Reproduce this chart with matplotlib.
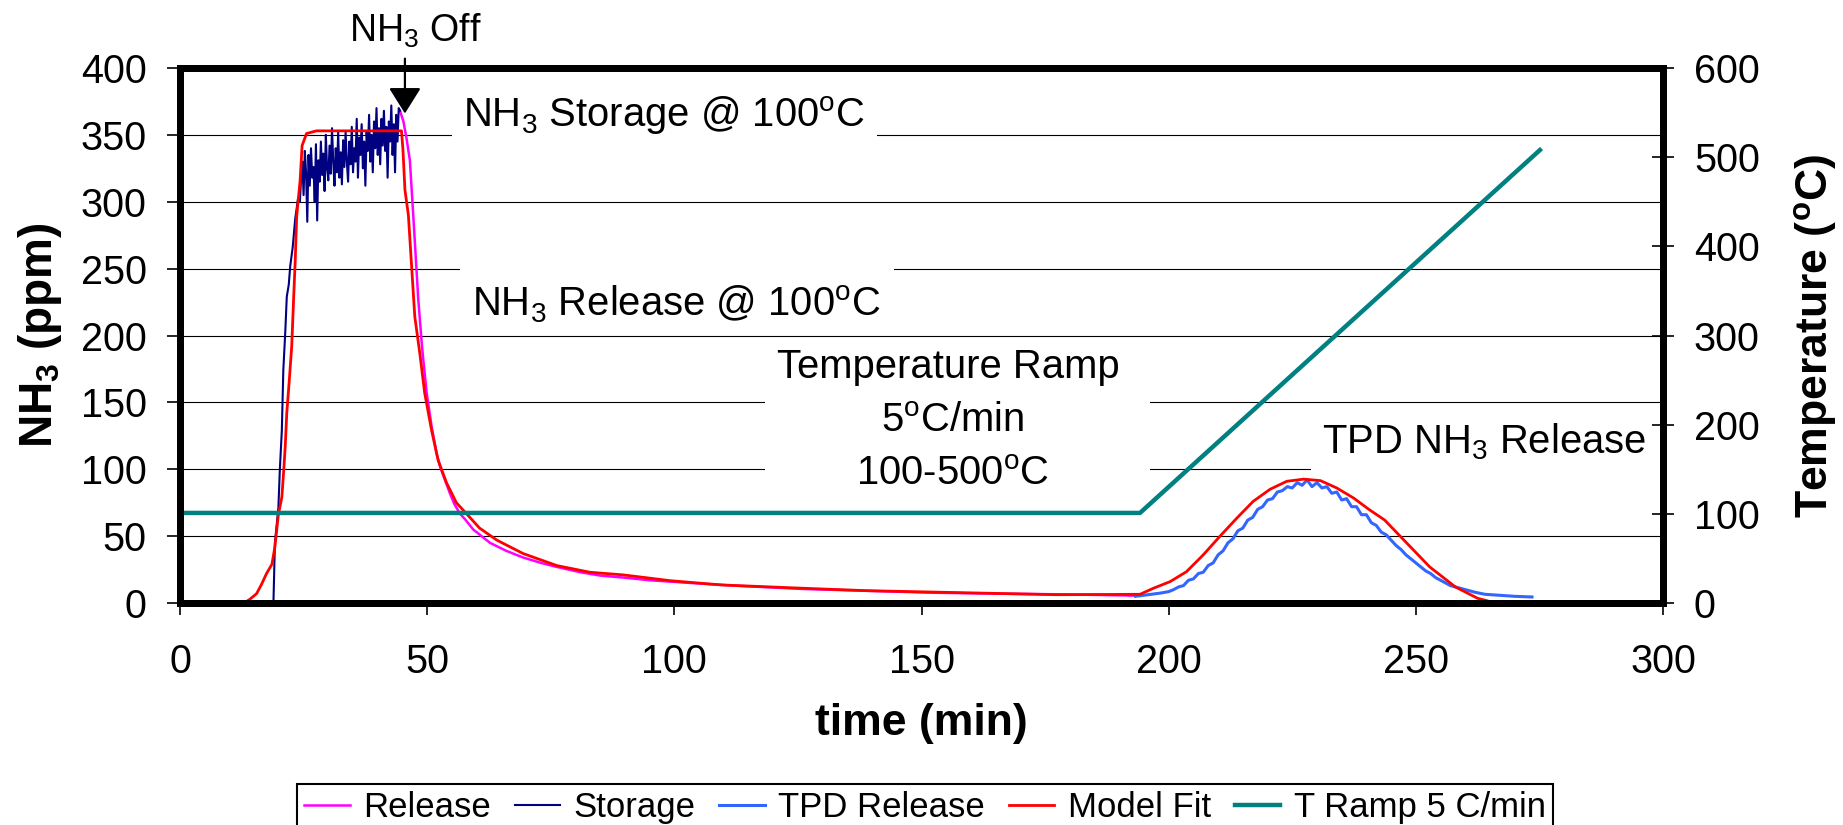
import matplotlib
matplotlib.use('Agg')
import matplotlib.pyplot as plt
from matplotlib.patches import Rectangle

plt.rcParams['font.family'] = ['Liberation Sans', 'DejaVu Sans']
plt.rcParams['mathtext.fontset'] = 'custom'
plt.rcParams['mathtext.rm'] = 'Liberation Sans'
plt.rcParams['mathtext.it'] = 'Liberation Sans:italic'
plt.rcParams['mathtext.bf'] = 'Liberation Sans:bold'
plt.rcParams['mathtext.default'] = 'regular'

# ---------------- data ----------------
t_storage = [0, 18.9, 19.2, 19.6, 19.9, 20.2, 20.6, 20.9, 21.3, 21.6, 22.0, 22.3, 22.8, 23.3, 23.9, 24.25,
             24.5, 24.75, 25.0, 25.25, 25.5, 25.75, 26.0, 26.25, 26.5, 26.75,
             27.0, 27.25, 27.5, 27.75, 28.0, 28.25, 28.5, 28.75, 29.0, 29.25,
             29.5, 29.75, 30.0, 30.25, 30.5, 30.75, 31.0, 31.25, 31.5, 31.75,
             32.0, 32.25, 32.5, 32.75, 33.0, 33.25, 33.5, 33.75, 34.0, 34.25,
             34.5, 34.75, 35.0, 35.25, 35.5, 35.75, 36.0, 36.25, 36.5, 36.75,
             37.0, 37.25, 37.5, 37.75, 38.0, 38.25, 38.5, 38.75, 39.0, 39.25,
             39.5, 39.75, 40.0, 40.25, 40.5, 40.75, 41.0, 41.25, 41.5, 41.75,
             42.0, 42.25, 42.5, 42.75, 43.0, 43.25, 43.5, 43.75, 44.0, 44.25, 44.5]
storage = [0, 0, 45, 60, 71, 100, 129, 174, 203, 229, 238, 252, 266, 287, 303, 300,
           318, 330, 305, 338, 322, 285, 335, 312, 340, 318,
           326, 300, 343, 286, 331, 315, 345, 320, 336, 308,
           350, 325, 316, 342, 321, 355, 330, 312, 340, 322,
           352, 318, 337, 313, 346, 326, 352, 330, 315, 345,
           328, 356, 322, 340, 330, 362, 318, 348, 335, 358,
           325, 345, 312, 352, 338, 365, 330, 350, 322, 360,
           340, 370, 335, 355, 328, 362, 342, 368, 338, 356,
           318, 360, 345, 372, 335, 358, 322, 365, 345, 370, 368]

t_release = [44.5, 45.2, 45.8, 46.5, 47.2, 48.2, 49.0, 49.9, 50.9, 51.9, 52.6, 53.2, 54.0, 54.6,
             55.5, 56.6, 57.8, 59.3, 61.0, 62.7, 66.0, 69.4, 73.0, 76.2, 81.0, 85.0, 89.7, 95.0,
             103.2, 112.0, 126.0, 140.0, 152.0, 165.0, 178.0, 186.0, 193.3]
release = [368, 360, 348, 331, 289, 227, 190, 157, 132, 112, 102, 96, 88, 82,
           74, 67, 62, 55, 50, 45, 39, 34, 30, 27, 23, 20.5, 19, 17,
           15, 13, 10.5, 9, 7.7, 7, 6.5, 6, 5.5]

t_tpd = [193.3, 196.9, 198.5, 200, 201, 202, 203, 204, 205, 206, 207, 208, 209, 210,
         211, 212, 213, 214, 215, 216, 217, 218, 219, 220, 221, 222, 223, 224, 225,
         226, 227, 228, 229, 230, 231, 232, 233, 234, 235, 236, 237, 238, 239, 240,
         241, 242, 243, 244, 245, 246, 247, 248, 249, 250, 251, 252, 253, 254, 255,
         256, 257, 258, 259, 260, 262, 264, 266, 268, 270, 273.5]
tpd = [5, 6.7, 7.5, 8.5, 10, 12, 13, 17, 18, 22, 23, 28, 30, 36,
       39, 45, 48, 54, 56, 62, 64, 70, 72, 77, 78, 83, 84, 87, 86,
       90, 88, 92, 87, 90, 86, 87, 82, 83, 77, 78, 72, 72, 66, 66,
       60, 58, 53, 51, 47, 43, 40, 36, 33, 30, 27, 24, 22, 19, 17,
       15, 13, 12, 11, 10, 8, 6.5, 6, 5.5, 5, 4.5]

t_model = [0, 13.0, 14.2, 15.5, 16.5, 17.5, 18.6, 19.2, 19.9, 20.6, 21.0, 21.3, 21.6, 22.1, 22.6,
           23.0, 23.3, 23.6, 24.3, 24.7, 25.6, 27.6, 44.8, 45.1, 45.5, 46.2, 46.9, 47.5, 48.5,
           49.5, 50.9, 52.2, 53.9, 55.9, 57.9, 60.6, 64.1, 69.4, 76.2, 82.9, 89.7, 99.1, 109.5,
           126.2, 139.1, 154.6, 177.2, 194.2, 196.9, 200.3, 203.6, 207.0, 210.4, 213.8, 217.1,
           220.5, 223.9, 227.3, 230.7, 234.0, 237.4, 240.5, 243.7, 247.6, 252.8, 258.0, 262.5, 264.4]
model = [0, 0, 3, 7, 14, 22, 29, 42, 66, 79, 100, 118, 142, 166, 192,
         229, 255, 289, 316, 342, 351, 353, 353, 339, 309, 290, 249, 214, 187,
         157, 129, 107, 90, 75, 67, 56, 47, 37, 28, 23, 21, 16.7, 13.5,
         11, 9.2, 8, 6.2, 6.5, 11, 16, 23.4, 36, 50, 63.5, 76,
         85, 91, 92.6, 91.5, 86, 78.5, 70, 62, 47, 27, 12, 3.5, 1.7]

t_ramp = [0, 194.2, 275.1]
ramp = [101, 101, 508]

series_labels = ['Release', 'Storage', 'TPD Release', 'Model Fit', 'T Ramp 5 C/min']
x_ticks = [0, 50, 100, 150, 200, 250, 300]
y_ticks = [0, 50, 100, 150, 200, 250, 300, 350, 400]
y2_ticks = [0, 100, 200, 300, 400, 500, 600]

# ---------------- figure ----------------
fig = plt.figure(figsize=(18.43, 8.25), dpi=100)
ax = fig.add_axes([180 / 1843, 1 - 603 / 825, 1483 / 1843, 535 / 825])
ax2 = ax.twinx()

l1, = ax.plot(t_release, release, color='#FF00FF', lw=1.8, zorder=2)
l2, = ax.plot(t_storage, storage, color='#000080', lw=1.5, zorder=2)
l3, = ax.plot(t_tpd, tpd, color='#3366FF', lw=2.2, zorder=2)
l4, = ax.plot(t_model, model, color='#FF0000', lw=2.0, zorder=2)
l5, = ax2.plot(t_ramp, ramp, color='#008080', lw=3.2)

ax.set_xlim(0, 300)
ax.set_ylim(0, 400)
ax2.set_ylim(0, 600)
ax.set_xticks(x_ticks)
ax.set_yticks(y_ticks)
ax2.set_yticks(y2_ticks)

ax.yaxis.grid(True, color='black', lw=0.8)
ax.set_axisbelow(True)

for a in (ax, ax2):
    for sp in a.spines.values():
        sp.set_linewidth(5)
        sp.set_capstyle('projecting')

tick_fs = 28.5
ax.tick_params(axis='y', direction='out', length=9.6, width=1.2, pad=14.4, labelsize=tick_fs)
ax.tick_params(axis='x', direction='out', length=8.6, width=1.2, pad=20, labelsize=tick_fs)
ax2.tick_params(axis='y', direction='inout', length=16.5, width=1.2, pad=14, labelsize=tick_fs)

ax.set_xlabel('time (min)', fontsize=32, fontweight='bold', labelpad=16)
ax.set_ylabel(r'NH$_\mathbf{3}$ (ppm)', fontsize=33, fontweight='bold', labelpad=12)
ax2.set_ylabel(r'Temperature ($^\mathbf{o}$C)', fontsize=32, fontweight='bold', labelpad=23)

# ---------------- annotations ----------------
fs = 28.8
txt_storage = ax.text(57.3, 356, r'NH$_3$ Storage @ 100$^o$C', fontsize=fs,
                      ha='left', va='baseline', zorder=3)
txt_release = ax.text(59.0, 214, r'NH$_3$ Release @ 100$^o$C', fontsize=fs,
                      ha='left', va='baseline', zorder=3)
txt_ramp1 = ax.text(155.5, 168.2, 'Temperature Ramp', fontsize=fs, ha='center', va='baseline', zorder=3)
txt_ramp2 = ax.text(156.2, 127.9, r'5$^o$C/min', fontsize=fs, ha='center', va='baseline', zorder=3)
txt_ramp3 = ax.text(156.2, 88.2, r'100-500$^o$C', fontsize=fs, ha='center', va='baseline', zorder=3)
txt_tpd = ax.text(231.0, 111.9, r'TPD NH$_3$ Release', fontsize=fs, ha='left', va='baseline', zorder=3)

ax.text(47.6, 420, r'NH$_3$ Off', fontsize=27, ha='center', va='baseline', clip_on=False)
ax.annotate('', xy=(45.5, 366), xytext=(45.5, 407), annotation_clip=False,
            arrowprops=dict(arrowstyle='-|>,head_length=0.8,head_width=0.5', color='black',
                            lw=1.6, mutation_scale=20, shrinkA=0, shrinkB=0))

# legend
leg = fig.legend([l1, l2, l3, l4, l5], series_labels, loc='upper center',
                 bbox_to_anchor=(925 / 1843, 1 - 784 / 825), ncol=5, fontsize=25,
                 frameon=True, fancybox=False, edgecolor='black', framealpha=1,
                 handlelength=1.3, handletextpad=0.4, columnspacing=0.68,
                 borderpad=0.2, borderaxespad=0)
leg.get_frame().set_linewidth(1.5)

# white backgrounds behind annotation text (hide grid lines like the text boxes)
fig.canvas.draw()
renderer = fig.canvas.get_renderer()


def mask(texts, left, right, top, bottom, to_right_edge=False):
    bbs = [t.get_window_extent(renderer) for t in texts]
    x0 = min(b.x0 for b in bbs) - left
    x1 = max(b.x1 for b in bbs) + right
    y0 = min(b.y0 for b in bbs) - bottom
    y1 = max(b.y1 for b in bbs) + top
    if to_right_edge:
        x1 = ax.bbox.x1
    inv = ax.transAxes.inverted()
    (a0, b0), (a1, b1) = inv.transform([(x0, y0), (x1, y1)])
    ax.add_patch(Rectangle((a0, b0), a1 - a0, b1 - b0, transform=ax.transAxes,
                           facecolor='white', edgecolor='none', zorder=1))


mask([txt_storage], 11, 12, 5, 10)
mask([txt_release], 12, 14, 22, 3)
mask([txt_ramp1, txt_ramp2, txt_ramp3], 12, 30, 5, 5)
mask([txt_tpd], 11, 0, 3, 12, to_right_edge=True)

fig.savefig('out.png', dpi=100)
